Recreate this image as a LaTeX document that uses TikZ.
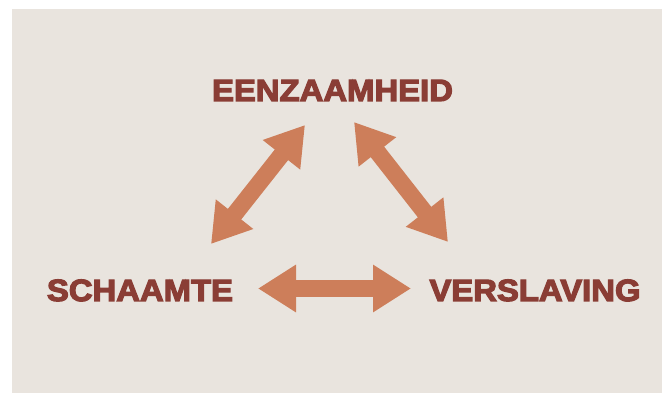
\documentclass[tikz,border=0pt]{standalone}
\usepackage{fontspec}
\newfontfamily\heavyfont[FakeBold=4,FakeStretch=1.07]{Liberation Sans Bold}
\usetikzlibrary{arrows.meta}
\definecolor{bgbeige}{HTML}{E9E4DE}
\definecolor{wordred}{HTML}{8A3D35}
\definecolor{arrowclay}{HTML}{CD7E5A}
\tikzset{
  word/.style={text=wordred, font=\heavyfont\fontsize{30.7}{32}\selectfont, inner sep=0pt, anchor=base},
  dblarrow/.style={draw=arrowclay, line width=17pt, line cap=butt,
    {Triangle[length=38pt,width=45pt,fill=arrowclay]}-{Triangle[length=38pt,width=45pt,fill=arrowclay]}}
}
\begin{document}
\begin{tikzpicture}[x=1pt,y=-1pt]
\useasboundingbox (0,0) rectangle (662,395);
\fill[white] (0,0) rectangle (662,395);
\fill[bgbeige] (12,9) rectangle (662,393);
\node[word] (top) at (332.5,101) {EENZAAMHEID};
\node[word] (left) at (140,301) {SCHAAMTE};
\node[word] (right) at (535,301) {VERSLAVING};
\coordinate (tl) at (305,125);
\coordinate (bl) at (211,244);
\coordinate (tr) at (354,122);
\coordinate (br) at (448,242);
\coordinate (hl) at (258,288.5);
\coordinate (hr) at (411,288.5);
\draw[dblarrow] (tl) -- (bl);
\draw[dblarrow] (tr) -- (br);
\draw[dblarrow] (hl) -- (hr);
\end{tikzpicture}
\end{document}
